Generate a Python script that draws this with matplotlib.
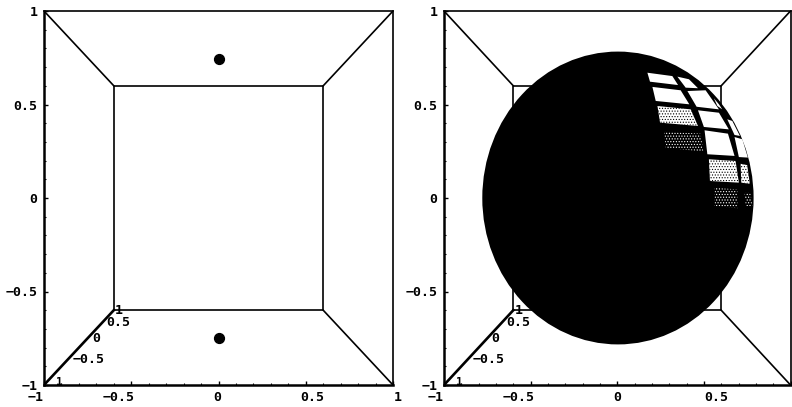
# plot.py - two panels, box seen from the front, with two points / a sphere
import matplotlib
matplotlib.use("Agg")
import numpy as np
import matplotlib.pyplot as plt
from matplotlib.patches import Circle, Polygon

W, H = 792, 407
MONO = "DejaVu Sans Mono"
LABEL_SIZE = 9.5

TICKS = [-1, -0.5, 0, 0.5, 1]
YLABELS = ["\u22121", "\u22120.5", "0", "0.5", "1"]

# x labels sit off their ticks in the original, so they get their own positions
LEFT_XLABELS = ["\u22121", "\u22120.5", "0", "0.5", "1"]
LEFT_XLABEL_POS = [-1.05, -0.57, -0.01, 0.54, 1.03]
RIGHT_XLABELS = ["\u22121", "\u22120.5", "0", "0.5"]
RIGHT_XLABEL_POS = [-1.05, -0.57, 0.0, 0.57]

INNER = 0.6
POINT_X = [0.0, 0.0]
POINT_Y = [0.743, -0.749]
SPHERE_R = 0.783

DEPTH_LABELS = ["\u22120.5", "0", "0.5", "1"]
DEPTH_X = [-0.834, -0.725, -0.642, -0.593]
DEPTH_Y = [-0.861, -0.749, -0.668, -0.599]

# cells left open in the sphere, corners in data units
WHITE_CELLS = [
    [(0.174, 0.670), (0.318, 0.652), (0.351, 0.604), (0.189, 0.622)],
    [(0.347, 0.649), (0.414, 0.635), (0.466, 0.587), (0.395, 0.590)],
    [(0.203, 0.594), (0.366, 0.576), (0.416, 0.501), (0.222, 0.519)],
    [(0.405, 0.572), (0.510, 0.576), (0.587, 0.474), (0.458, 0.488)],
    [(0.466, 0.469), (0.587, 0.456), (0.644, 0.367), (0.500, 0.380)],
    [(0.504, 0.362), (0.639, 0.344), (0.677, 0.225), (0.520, 0.234)],
    [(0.635, 0.421), (0.664, 0.412), (0.708, 0.332), (0.677, 0.337)],
    [(0.677, 0.326), (0.722, 0.314), (0.754, 0.216), (0.702, 0.219)],
    [(0.558, 0.533), (0.587, 0.501), (0.606, 0.474), (0.578, 0.492)],
]
SPECKLED_CELLS = [
    [(0.232, 0.492), (0.424, 0.474), (0.466, 0.385), (0.247, 0.403)],
    [(0.529, 0.207), (0.683, 0.198), (0.702, 0.082), (0.535, 0.091)],
    [(0.712, 0.183), (0.750, 0.176), (0.765, 0.076), (0.716, 0.082)],
]
DOTTED_CELLS = [
    [(0.270, 0.355), (0.481, 0.344), (0.497, 0.248), (0.280, 0.269)],
    [(0.562, 0.055), (0.693, 0.046), (0.693, -0.055), (0.562, -0.043)],
    [(0.735, 0.028), (0.769, 0.028), (0.779, -0.043), (0.741, -0.043)],
]


def draw_box(ax):
    """Inner square and the lines from its corners to the frame."""
    i = INNER
    ax.plot([-i, i, i, -i, -i], [-i, -i, i, i, -i], color="black", lw=1.2)
    for sx, sy in [(-1, 1), (1, -1), (1, 1)]:
        ax.plot([sx, sx * i], [sy, sy * i], color="black", lw=1.2)
    # depth axis is heavier
    ax.plot([-1, -i], [-1, -i], color="black", lw=1.9, zorder=2.5)


def draw_depth_labels(ax):
    for x, y, lab in zip(DEPTH_X, DEPTH_Y, DEPTH_LABELS):
        ax.text(x, y, lab, ha="left", va="center", fontsize=LABEL_SIZE,
                fontweight="bold", family=MONO, zorder=5)
    ax.text(-0.914, -0.985, "1", ha="center", va="center", fontsize=8,
            fontweight="bold", family=MONO, zorder=5)


def style_axes(ax, xlabels, xlabel_pos):
    ax.set_xlim(-1, 1)
    ax.set_ylim(-1, 1)
    ax.set_xticks(TICKS)
    ax.set_xticklabels([])
    ax.set_yticks(TICKS)
    ax.set_yticklabels(YLABELS)
    ax.set_xticks(np.arange(-10, 11) / 10, minor=True)
    ax.set_yticks(np.arange(-10, 11) / 10, minor=True)
    ax.tick_params(which="major", direction="in", length=3, width=1.0, pad=4.5,
                   labelsize=LABEL_SIZE)
    ax.tick_params(which="minor", direction="in", length=1.5, width=0.8)
    for lab in ax.get_yticklabels():
        lab.set_family(MONO)
        lab.set_fontweight("bold")
    trans = ax.get_xaxis_transform()
    for x, lab in zip(xlabel_pos, xlabels):
        ax.text(x, -0.034, lab, transform=trans, ha="center", va="center",
                fontsize=LABEL_SIZE, fontweight="bold", family=MONO, clip_on=False)
    ax.spines["left"].set_linewidth(1.8)
    ax.spines["bottom"].set_linewidth(1.8)
    ax.spines["top"].set_linewidth(1.2)
    ax.spines["right"].set_linewidth(1.2)


def axes_px(fig, x0, x1, y_top, y_bottom):
    return fig.add_axes([x0 / W, 1 - y_bottom / H, (x1 - x0) / W, (y_bottom - y_top) / H])


def add_cells(ax, cells, face, hatch_color=None):
    for cell in cells:
        ax.add_patch(Polygon(cell, closed=True, facecolor=face,
                             edgecolor=hatch_color if hatch_color else "none",
                             hatch="......" if hatch_color else None,
                             linewidth=0, zorder=4))


def main():
    plt.rcParams["hatch.linewidth"] = 0.5
    fig = plt.figure(figsize=(W / 100, H / 100), dpi=100)

    ax1 = axes_px(fig, 44, 393, 11, 385)
    draw_box(ax1)
    ax1.scatter(POINT_X, POINT_Y, s=50, color="black", zorder=4)
    draw_depth_labels(ax1)
    style_axes(ax1, LEFT_XLABELS, LEFT_XLABEL_POS)

    ax2 = axes_px(fig, 444, 790.5, 11, 385)
    draw_box(ax2)
    ax2.add_patch(Circle((0.004, 0.0), SPHERE_R, facecolor="black", edgecolor="black",
                         linewidth=0, zorder=3))
    add_cells(ax2, WHITE_CELLS, "white")
    add_cells(ax2, SPECKLED_CELLS, "white", "black")
    add_cells(ax2, DOTTED_CELLS, "black", "white")
    draw_depth_labels(ax2)
    style_axes(ax2, RIGHT_XLABELS, RIGHT_XLABEL_POS)

    fig.savefig("out.png", dpi=100)


if __name__ == "__main__":
    main()
